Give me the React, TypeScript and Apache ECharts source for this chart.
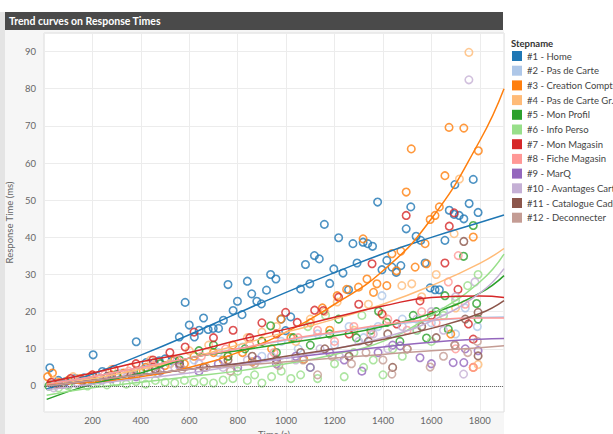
import React, { useEffect, useRef } from "react";
import * as echarts from "echarts";

const STEP_NAMES = [
  "#1 - Home",
  "#2 - Pas de Carte",
  "#3 - Creation Compte",
  "#4 - Pas de Carte Gr.",
  "#5 - Mon Profil",
  "#6 - Info Perso",
  "#7 - Mon Magasin",
  "#8 - Fiche Magasin",
  "#9 - MarQ",
  "#10 - Avantages Carte",
  "#11 - Catalogue Cadeaux",
  "#12 - Deconnecter",
];

const STEP_COLORS = [
  "#1f77b4", "#aec7e8", "#ff7f0e", "#ffbb78", "#2ca02c", "#98df8a",
  "#d62728", "#ff9896", "#9467bd", "#c5b0d5", "#8c564b", "#c49c94",
];

const X_TICKS = [200, 400, 600, 800, 1000, 1200, 1400, 1600, 1800];
const Y_TICKS = [0, 10, 20, 30, 40, 50, 60, 70, 80, 90];

// observed points [time (s), response time (ms)]
const PTS_1 = [[24,4.9],[60,1.5],[90,1.2],[130,2],[165,2.2],[203,8.4],[241,3.9],[300,3.1],[381,11.9],[422,6.3],[455,6.3],[476,6.8],[500,7.3],[530,6.8],[559,13.2],[583,22.5],[600,16.4],[621,13.2],[641,15],[659,18.3],[678,15.2],[699,15.5],[721,15.5],[741,17.7],[760,27.3],[781,20.3],[799,22.8],[818,19.2],[840,28.2],[858,24.8],[879,22.8],[898,22.1],[919,25.8],[936,30],[958,28.8],[980,18],[998,14.9],[1019,18.6],[1060,26.1],[1080,32.7],[1098,27.5],[1117,35.1],[1137,34.2],[1158,43.5],[1180,27.6],[1197,31.5],[1217,39.9],[1235,30.4],[1258,25.9],[1276,38.3],[1293,33.1],[1318,38.7],[1337,38.3],[1357,37.6],[1378,49.5],[1396,31.3],[1416,33.8],[1437,32],[1455,30.6],[1474,32.4],[1496,42.3],[1515,48.2],[1537,40.3],[1556,39.2],[1574,33.1],[1595,26.4],[1615,25.9],[1633,25.9],[1656,39.2],[1674,47.3],[1694,46.2],[1715,45.9],[1734,45],[1697,54.2],[1756,49.1],[1773,55.6],[1793,46.7]];
const PTS_2 = [[30,0.5],[120,1.5],[220,2.5],[320,3.5],[420,5],[520,6],[620,7],[720,9],[820,10.5],[900,8],[980,12],[1050,10],[1130,14],[1200,11],[1260,16],[1320,13],[1380,16],[1396,24.3],[1480,18],[1540,15],[1600,17],[1650,20],[1700,14],[1740,21],[1790,16]];
const PTS_3 = [[15,2.5],[35,3.5],[60,1],[100,1.5],[150,2],[190,2.5],[230,2],[280,3],[330,3.5],[380,4],[420,5],[460,4.5],[500,5.5],[540,7],[580,6],[620,8],[660,5],[700,9],[740,7],[780,11],[820,9],[860,6.5],[900,12],[940,10],[978,18],[1020,13],[1073,7.2],[1100,17],[1150,21],[1180,15],[1211,24.3],[1250,26],[1299,26.6],[1318,39.6],[1334,28.8],[1361,25.2],[1375,27.5],[1416,27],[1437,35.6],[1456,31],[1474,36.3],[1496,52.2],[1517,63.8],[1533,32],[1574,38.3],[1580,32.9],[1595,44.8],[1615,45.9],[1633,48.2],[1656,56.6],[1673,69.6],[1734,69.4],[1773,40.1],[1794,63.3],[1773,5],[1680,14]];
const PTS_4 = [[40,1.5],[120,2.5],[200,3],[280,4.5],[360,5],[440,7],[520,6],[600,9.5],[680,11],[760,8],[840,13],[900,14.5],[960,16],[1040,12],[1100,18],[1160,20],[1211,22.6],[1280,15],[1340,22],[1400,19],[1478,27],[1519,27.5],[1560,24],[1620,30],[1694,41],[1716,55.7],[1755,89.8],[1793,5.8],[1700,21]];
const PTS_5 = [[20,0],[100,0.5],[200,1.5],[300,3],[400,4],[480,6],[560,7],[640,9.5],[700,11],[760,8],[830,10],[900,12],[936,16.2],[960,9],[1030,13],[1100,11],[1180,14],[1217,18],[1290,13],[1350,15],[1382,20.1],[1416,17.1],[1470,12],[1525,19],[1580,12.9],[1620,20],[1656,24.3],[1670,15.3],[1733,34.9],[1773,43.2],[1787,22.2],[1793,18]];
const PTS_6 = [[60,-0.5],[100,0],[140,0.5],[180,0],[220,1],[260,0.3],[300,1],[340,0.5],[380,1.2],[420,0.5],[460,1.5],[500,1],[540,0.8],[580,1.5],[620,1],[660,1.2],[700,0.8],[740,1.6],[780,2],[800,4],[840,1.5],[870,3],[900,0.8],[940,2.5],[980,4],[1020,2],[1060,3],[1090,16],[1100,5],[1130,2],[1163,19],[1200,6],[1240,2.5],[1280,9],[1313,19],[1320,5],[1360,7],[1400,3],[1440,10],[1480,8],[1540,15],[1600,12],[1650,19],[1700,23],[1750,27],[1793,30]];
const PTS_7 = [[30,1],[110,2],[200,3],[290,4.5],[380,6],[450,7],[520,9],[583,10.5],[620,14.5],[700,13],[781,15],[850,13],[900,17],[960,14],[998,19.8],[1046,17.1],[1118,20.4],[1154,20.3],[1217,23.9],[1260,14],[1300,22],[1355,32.9],[1396,19.4],[1457,16.7],[1496,45.9],[1553,22.9],[1600,19],[1656,33.1],[1674,43],[1694,46.6],[1753,16.7],[1773,12.6],[1710,26]];
const PTS_8 = [[50,0.5],[150,1.5],[250,3],[350,4],[450,5.5],[550,7],[650,8],[750,10],[850,11],[950,9],[1050,13],[1130,15],[1200,12],[1280,16],[1350,14],[1420,18],[1500,15],[1560,20],[1620,17],[1670,28],[1711,35.1],[1740,22],[1773,5],[1700,10]];
const PTS_9 = [[80,0.5],[180,1],[280,2],[380,2.5],[480,4],[560,5.5],[640,4],[720,6],[800,5],[880,7],[960,6],[1040,8],[1100,5],[1180,9],[1240,7],[1313,4],[1380,9],[1440,11],[1471,10.8],[1553,7.6],[1600,6],[1690,6.3],[1734,6.3],[1740,10],[1793,9.5]];
const PTS_10 = [[40,-0.5],[140,0.5],[240,1.5],[340,2.5],[440,4],[540,5],[640,6],[740,5],[840,7],[940,8],[1040,7],[1140,10],[1220,8],[1300,12],[1360,14],[1420,10],[1480,16],[1540,18],[1600,20],[1650,15],[1700,24],[1733,3.2],[1755,82.4],[1780,28]];
const PTS_11 = [[60,0.5],[160,1.5],[260,2.5],[360,3],[460,4.5],[560,6],[660,5],[760,7],[860,8],[960,7],[1060,9],[1160,10],[1260,8],[1340,12],[1420,14],[1440,5],[1500,10],[1560,16],[1620,13],[1697,11],[1734,38.9],[1740,18],[1793,19.8],[1793,8.1]];
const PTS_12 = [[70,0.5],[170,1],[270,2],[370,3],[470,3.5],[570,4.5],[670,5],[770,4],[870,6],[970,5.5],[1070,7],[1130,3],[1190,8],[1270,6],[1330,9],[1400,7],[1437,3.2],[1500,10],[1595,5.1],[1650,8],[1697,11],[1750,9],[1790,12]];

// trend curves at these times
const CURVE_X = [11, 200, 400, 600, 800, 1000, 1200, 1400, 1600, 1800, 1900];
const CURVE_1 = [-0.8, 3.2, 8.3, 13.8, 19.6, 25.2, 30.5, 35.6, 40, 44, 46];
const CURVE_2 = [0.5, 2.5, 5, 7.5, 10, 12.3, 14.3, 16.2, 17.6, 18.4, 18.6];
const CURVE_3 = [0.5, 1, 2.5, 5, 9, 14.5, 22, 31, 45, 66, 80];
const CURVE_4 = [0, 2, 4.5, 7.5, 11, 14.5, 18, 22, 27, 33, 37];
const CURVE_5 = [-3.6, 0.5, 3.5, 7.5, 9.5, 11.5, 13.5, 16, 19.5, 25, 29.7];
const CURVE_6 = [-2.5, -0.5, 1, 2.5, 4, 6, 8.5, 12, 19, 28, 35.5];
const CURVE_7 = [1, 3.5, 6.5, 9, 12.3, 15.3, 18.5, 21.5, 23.8, 24.2, 23.8];
const CURVE_8 = [0.5, 2.5, 5, 7.5, 10, 12.5, 14.5, 16.5, 17.8, 18.3, 18.3];
const CURVE_9 = [0, 1.5, 3, 4.5, 6, 7.5, 9, 10.5, 11.8, 12.6, 12.8];
const CURVE_10 = [-1, 0.5, 2, 3.5, 5.5, 7.5, 10, 13, 17.5, 25, 31.6];
const CURVE_11 = [0, 1.5, 3, 4.5, 6, 8, 10, 12.5, 15.5, 19.5, 23];
const CURVE_12 = [0, 1.5, 3, 4.5, 5.5, 6.5, 7.5, 8.5, 9.5, 10.3, 10.8];

const POINTS = [PTS_1, PTS_2, PTS_3, PTS_4, PTS_5, PTS_6, PTS_7, PTS_8, PTS_9, PTS_10, PTS_11, PTS_12];
const CURVES = [CURVE_1, CURVE_2, CURVE_3, CURVE_4, CURVE_5, CURVE_6, CURVE_7, CURVE_8, CURVE_9, CURVE_10, CURVE_11, CURVE_12];

const FONT = "Lato, 'Open Sans', sans-serif";

export default function App() {
  const ref = useRef<HTMLDivElement>(null);

  useEffect(() => {
    document.body.style.margin = "0";
    if (!ref.current) return;
    const chart = echarts.init(ref.current, undefined, { renderer: "svg" });

    const series: any[] = [];
    STEP_NAMES.forEach((name, i) => {
      const c = STEP_COLORS[i];
      series.push({
        type: "scatter",
        name,
        data: POINTS[i],
        symbol: "circle",
        symbolSize: 7.5,
        itemStyle: { color: "rgba(255,255,255,0)", borderColor: c, borderWidth: 1.6 },
        z: 2,
      });
    });
    STEP_NAMES.forEach((name, i) => {
      const c = STEP_COLORS[i];
      series.push({
        type: "line",
        name,
        data: CURVE_X.map((x, j) => [x, CURVES[i][j]]),
        smooth: true,
        showSymbol: false,
        symbol: "none",
        lineStyle: { color: c, width: 1.5 },
        itemStyle: { color: c },
        z: 3,
      });
    });
    series.push({
      type: "line",
      name: "__zero",
      data: [],
      markLine: {
        silent: true,
        symbol: "none",
        label: { show: false },
        lineStyle: { type: "dotted", color: "#666", width: 1 },
        data: [{ yAxis: 0 }],
      },
      z: 4,
    });

    const legendGraphics: any[] = [];
    STEP_NAMES.forEach((n, i) => {
      const cy = 56 + i * 14.7;
      legendGraphics.push({
        type: "rect",
        shape: { x: 512, y: cy - 5, width: 10, height: 10 },
        style: { fill: STEP_COLORS[i] },
        z: 11,
      });
      legendGraphics.push({
        type: "text",
        x: 527,
        y: cy,
        z: 11,
        style: { text: n, fill: "#444", font: "9.5px " + FONT, verticalAlign: "middle" },
      });
    });

    chart.setOption({
      animation: false,
      textStyle: { fontFamily: FONT },
      backgroundColor: "#ffffff",
      grid: {
        left: 44,
        top: 33,
        right: 109,
        bottom: 22,
        outerBoundsMode: "none",
        containLabel: false,
        show: true,
        backgroundColor: "#ffffff",
        borderColor: "#dedede",
        borderWidth: 1,
      },
      xAxis: {
        type: "value",
        min: 0,
        max: 1900,
        interval: 200,
        name: "Time (s)",
        nameLocation: "middle",
        nameGap: 14,
        nameTextStyle: { color: "#666", fontSize: 9.5, fontFamily: FONT },
        axisLine: { show: false },
        axisTick: { show: false },
        splitLine: { show: true, lineStyle: { color: "#ececec", width: 1 } },
        axisLabel: {
          color: "#666",
          fontSize: 9.5,
          fontFamily: FONT,
          margin: 3,
          formatter: (v: number) => (X_TICKS.indexOf(v) >= 0 ? String(v) : ""),
        },
      },
      yAxis: {
        type: "value",
        min: -7,
        max: 95,
        splitNumber: 10,
        name: "Response Time (ms)",
        nameLocation: "middle",
        nameGap: 20,
        nameTextStyle: { color: "#666", fontSize: 9.5, fontFamily: FONT },
        axisLine: { show: false },
        axisTick: { show: false },
        splitLine: { show: true, lineStyle: { color: "#ececec", width: 1 } },
        axisLabel: {
          color: "#666",
          fontSize: 9.5,
          fontFamily: FONT,
          margin: 8,
          formatter: (v: number) => (Y_TICKS.indexOf(v) >= 0 ? String(v) : ""),
        },
      },
      graphic: [
        { type: "rect", shape: { x: 0, y: 12, width: 5, height: 422 }, style: { fill: "#e4e4e4" }, z: -10 },
        { type: "rect", shape: { x: 5, y: 30, width: 499, height: 404 }, style: { fill: "#f6f6f6" }, z: -10 },
        { type: "rect", shape: { x: 5, y: 12, width: 498, height: 18 }, style: { fill: "#4a4a4a" }, z: 10 },
        {
          type: "text",
          x: 9,
          y: 21,
          z: 11,
          style: {
            text: "Trend curves on Response Times",
            fill: "#ffffff",
            font: "bold 10.5px " + FONT,
            verticalAlign: "middle",
          },
        },
        {
          type: "text",
          x: 511,
          y: 43,
          z: 11,
          style: {
            text: "Stepname",
            fill: "#333",
            font: "bold 9.5px " + FONT,
            verticalAlign: "middle",
          },
        },
        ...legendGraphics,
      ],
      series,
    });

    return () => chart.dispose();
  }, []);

  return <div ref={ref} style={{ width: 613, height: 434 }} />;
}
